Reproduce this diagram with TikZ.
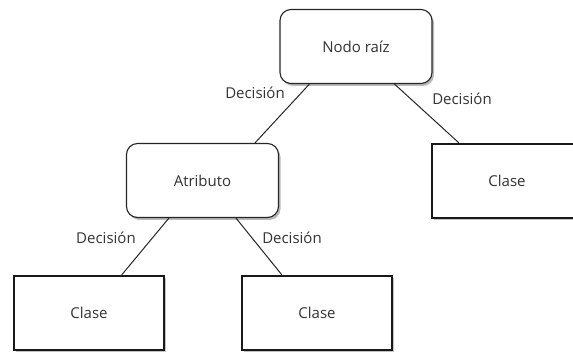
\documentclass[tikz,border=0pt]{standalone}
\usepackage{fontspec}
\setmainfont{Open Sans}
\usetikzlibrary{shadows,calc}
\begin{document}
\begin{tikzpicture}[x=1pt,y=-1pt,
  txt/.style={font=\fontsize{15}{18}\selectfont, text=black!80},
  roundbox/.style={txt, draw=black!85, line width=1.1pt, rounded corners=11pt, fill=white,
    minimum width=152pt, minimum height=74pt, inner sep=0pt,
    drop shadow={shadow xshift=2pt, shadow yshift=-2.5pt, fill=black!45, opacity=0.6}},
  classbox/.style={txt, draw=black!90, line width=2.4pt, fill=white,
    minimum width=150pt, minimum height=74pt, inner sep=0pt,
    drop shadow={shadow xshift=2pt, shadow yshift=-2pt, fill=black!40, opacity=0.6}},
  edge/.style={draw=black!85, line width=1pt},
  lbl/.style={txt, inner sep=0pt}
]
\useasboundingbox (0,0) rectangle (573,352);

% tree nodes
\node[roundbox] (root) at (356,46.5) {Nodo raíz};
\node[roundbox] (attr) at (202.5,180.5) {Atributo};
\node[classbox] (c3) at (507,181) {Clase};
\node[classbox] (c1) at (89,313) {Clase};
\node[classbox] (c2) at (317,313) {Clase};

% branches
\draw[edge] ([xshift=30pt]root.south west) -- ([xshift=129pt]attr.north west);
\draw[edge] ([xshift=115pt]root.south west) -- ([xshift=28pt]c3.north west);
\draw[edge] ([xshift=43pt]attr.south west) -- ([xshift=109pt]c1.north west);
\draw[edge] ([xshift=110pt]attr.south west) -- ([xshift=41pt]c2.north west);

% branch labels
\node[lbl] (d1) at (255,93) {Decisión};
\node[lbl] (d2) at (462,99) {Decisión};
\node[lbl] (d3) at (106,238) {Decisión};
\node[lbl] (d4) at (292,238) {Decisión};
\end{tikzpicture}
\end{document}
